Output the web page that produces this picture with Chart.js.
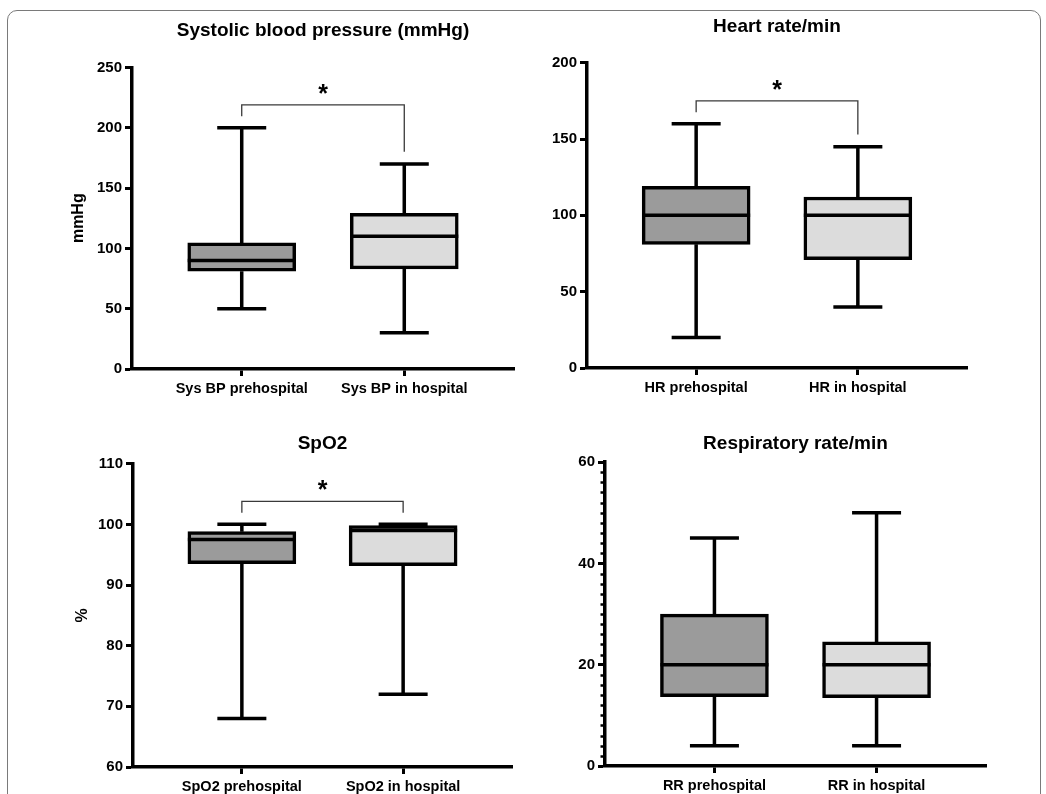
<!DOCTYPE html>
<html>
<head>
<meta charset="utf-8">
<script src="https://cdn.jsdelivr.net/npm/chart.js@4.4.1/dist/chart.umd.min.js"></script>
<style>
html, body { margin: 0; padding: 0; background: #fff; }
body { width: 1046px; height: 794px; position: relative; overflow: hidden; }
#frame { position: absolute; left: 7px; top: 10px; width: 1034px; height: 820px; border: 1px solid #7a7a7a; border-radius: 10px; box-sizing: border-box; }
canvas { position: absolute; }
</style>
</head>
<body>
<div id="frame"></div>
<canvas id="c1" width="520" height="400" style="left:0px;top:0px"></canvas>
<canvas id="c2" width="450" height="400" style="left:523px;top:0px"></canvas>
<canvas id="c3" width="520" height="394" style="left:0px;top:400px"></canvas>
<canvas id="c4" width="452" height="394" style="left:540px;top:400px"></canvas>
<script>
// ---------- DATA ----------
const sbpLabels = ['Sys BP prehospital', 'Sys BP in hospital'];
const sbpMin    = [50, 30];
const sbpQ1     = [81, 83];
const sbpMedian = [90, 110];
const sbpQ3     = [104.5, 129];
const sbpMax    = [200, 170];
const sbpTicks  = [0, 50, 100, 150, 200, 250];
const sbpSig    = [219, 209.5, 180];   // bracket level, left leg end, right leg end

const hrLabels = ['HR prehospital', 'HR in hospital'];
const hrMin    = [20, 40];
const hrQ1     = [81, 71];
const hrMedian = [100, 100];
const hrQ3     = [119, 112];
const hrMax    = [160, 145];
const hrTicks  = [0, 50, 100, 150, 200];
const hrSig    = [175, 167.5, 153];

const spoLabels = ['SpO2 prehospital', 'SpO2 in hospital'];
const spoMin    = [68, 72];
const spoQ1     = [93.5, 93.2];
const spoMedian = [97.5, 99];
const spoQ3     = [98.8, 99.8];
const spoMax    = [100, 100];
const spoTicks  = [60, 70, 80, 90, 100, 110];
const spoSig    = [103.8, 101.9, 101.9];

const rrLabels = ['RR prehospital', 'RR in hospital'];
const rrMin    = [4, 4];
const rrQ1     = [13.7, 13.5];
const rrMedian = [20, 20];
const rrQ3     = [30, 24.5];
const rrMax    = [45, 50];
const rrTicks  = [0, 20, 40, 60];

const boxColors = ['#9b9b9b', '#dcdcdc'];

// ---------- CHART FACTORY ----------
Chart.defaults.font.family = '"Liberation Sans", Arial, Helvetica, sans-serif';
Chart.defaults.color = '#000';
const LW = 3.5;

function makeChart(id, cfg) {
  const boxPlugin = {
    id: 'boxWhisker_' + id,
    beforeDatasetsDraw(chart) {
      const meta = chart.getDatasetMeta(0);
      const ys = chart.scales.y;
      const ctx = chart.ctx;
      ctx.save();
      ctx.strokeStyle = '#000';
      ctx.lineWidth = LW;
      meta.data.forEach((bar, i) => {
        const { x } = bar.getProps(['x'], true);
        const yMax = ys.getPixelForValue(cfg.max[i]);
        const yQ3 = ys.getPixelForValue(cfg.q3[i]);
        const yQ1 = ys.getPixelForValue(cfg.q1[i]);
        const yMin = ys.getPixelForValue(cfg.min[i]);
        const c = cfg.cap / 2;
        ctx.beginPath();
        ctx.moveTo(x, yMax); ctx.lineTo(x, yQ3);
        ctx.moveTo(x, yQ1); ctx.lineTo(x, yMin);
        ctx.moveTo(x - c, yMax); ctx.lineTo(x + c, yMax);
        ctx.moveTo(x - c, yMin); ctx.lineTo(x + c, yMin);
        ctx.stroke();
      });
      ctx.restore();
    },
    afterDatasetsDraw(chart) {
      const meta = chart.getDatasetMeta(0);
      const ys = chart.scales.y;
      const ctx = chart.ctx;
      ctx.save();
      ctx.strokeStyle = '#000';
      ctx.lineWidth = LW;
      meta.data.forEach((bar, i) => {
        const { x, width } = bar.getProps(['x', 'width'], true);
        const ym = ys.getPixelForValue(cfg.median[i]);
        ctx.beginPath();
        ctx.moveTo(x - width / 2, ym); ctx.lineTo(x + width / 2, ym);
        ctx.stroke();
      });
      ctx.restore();
    },
    afterDraw(chart) {
      const ctx = chart.ctx;
      const xs = chart.scales.x, ys = chart.scales.y;
      if (cfg.sig) {
        const x0 = xs.getPixelForValue(0), x1 = xs.getPixelForValue(1);
        const yl = ys.getPixelForValue(cfg.sig[0]);
        const ya = ys.getPixelForValue(cfg.sig[1]);
        const yb = ys.getPixelForValue(cfg.sig[2]);
        ctx.save();
        ctx.strokeStyle = '#3a3a3a';
        ctx.lineWidth = 1.3;
        ctx.beginPath();
        ctx.moveTo(x0, ya); ctx.lineTo(x0, yl); ctx.lineTo(x1, yl); ctx.lineTo(x1, yb);
        ctx.stroke();
        ctx.fillStyle = '#000';
        ctx.font = 'bold 25px "Liberation Sans", Arial, sans-serif';
        ctx.textAlign = 'center';
        ctx.textBaseline = 'alphabetic';
        ctx.fillText('*', (x0 + x1) / 2, yl - 3);
        ctx.restore();
      }
      if (cfg.minorStep) {
        ctx.save();
        ctx.strokeStyle = '#000';
        ctx.lineWidth = 2.5;
        const left = chart.chartArea.left;
        for (let v = ys.min; v <= ys.max; v += cfg.minorStep) {
          if (cfg.ticks.indexOf(v) >= 0) continue;
          const yy = Math.round(ys.getPixelForValue(v)) + 0.5;
          ctx.beginPath();
          ctx.moveTo(left - 4.5, yy); ctx.lineTo(left, yy);
          ctx.stroke();
        }
        ctx.restore();
      }
    }
  };

  const data = {
    datasets: [{
      data: cfg.labels.map((_, i) => ({ x: i, y: [cfg.q1[i], cfg.q3[i]] })),
      backgroundColor: boxColors,
      borderColor: '#000',
      borderWidth: LW,
      borderSkipped: false,
      barThickness: 108
    }]
  };

  return new Chart(document.getElementById(id), {
    type: 'bar',
    data,
    plugins: [boxPlugin],
    options: {
      responsive: false,
      animation: false,
      devicePixelRatio: 1,
      events: [],
      layout: { padding: { left: 0, right: cfg.padRight, top: 0, bottom: 0 } },
      plugins: {
        legend: { display: false },
        tooltip: { enabled: false },
        title: {
          display: true,
          text: cfg.title,
          fullSize: false,
          color: '#000',
          font: { size: 19, weight: 'bold' },
          padding: { top: cfg.titlePad[0], bottom: cfg.titlePad[1] }
        }
      },
      scales: {
        x: {
          type: 'linear',
          min: -0.675,
          max: 1.675,
          offset: false,
          afterBuildTicks: (s) => { s.ticks = cfg.labels.map((_, i) => ({ value: i })); },
          afterFit: (s) => { s.height = cfg.xHeight; },
          border: { display: true, color: '#000', width: LW },
          grid: { display: true, offset: false, drawOnChartArea: false, drawTicks: true, tickLength: 7, tickWidth: 3, color: '#000', tickColor: '#000' },
          ticks: {
            autoSkip: false,
            maxRotation: 0,
            padding: 4,
            color: '#000',
            font: { size: 14.5, weight: 'bold' },
            callback: (v) => cfg.labels[v]
          }
        },
        y: {
          type: 'linear',
          min: cfg.ticks[0],
          max: cfg.ticks[cfg.ticks.length - 1],
          afterBuildTicks: (s) => { s.ticks = cfg.ticks.map(v => ({ value: v })); },
          afterFit: (s) => { s.width = cfg.yWidth; },
          border: { display: true, color: '#000', width: LW },
          grid: { display: true, drawOnChartArea: false, drawTicks: true, tickLength: 7, tickWidth: 3, color: '#000', tickColor: '#000' },
          ticks: {
            padding: 3,
            color: '#000',
            font: { size: 15, weight: 'bold' }
          },
          title: {
            display: !!cfg.yTitle,
            text: cfg.yTitle || '',
            color: '#000',
            font: { size: 16, weight: 'bold' },
            padding: { top: cfg.yTitlePad || 0, bottom: 0 }
          }
        }
      }
    }
  });
}

makeChart('c1', {
  title: 'Systolic blood pressure (mmHg)', labels: sbpLabels,
  min: sbpMin, q1: sbpQ1, median: sbpMedian, q3: sbpQ3, max: sbpMax, ticks: sbpTicks,
  sig: sbpSig, cap: 49, yTitle: 'mmHg', yTitlePad: 69.4,
  yWidth: 132, xHeight: 31, padRight: 6, titlePad: [19, 25.6]
});
makeChart('c2', {
  title: 'Heart rate/min', labels: hrLabels,
  min: hrMin, q1: hrQ1, median: hrMedian, q3: hrQ3, max: hrMax, ticks: hrTicks,
  sig: hrSig, cap: 49,
  yWidth: 64, xHeight: 32, padRight: 6, titlePad: [15, 24.9]
});
makeChart('c3', {
  title: 'SpO2', labels: spoLabels,
  min: spoMin, q1: spoQ1, median: spoMedian, q3: spoQ3, max: spoMax, ticks: spoTicks,
  sig: spoSig, cap: 49, yTitle: '%', yTitlePad: 73.4,
  yWidth: 133, xHeight: 27, padRight: 8, titlePad: [32, 8.9]
});
makeChart('c4', {
  title: 'Respiratory rate/min', labels: rrLabels,
  min: rrMin, q1: rrQ1, median: rrMedian, q3: rrQ3, max: rrMax, ticks: rrTicks,
  sig: null, cap: 49, minorStep: 2,
  yWidth: 65, xHeight: 28, padRight: 6, titlePad: [32, 7.3]
});
</script>
</body>
</html>
